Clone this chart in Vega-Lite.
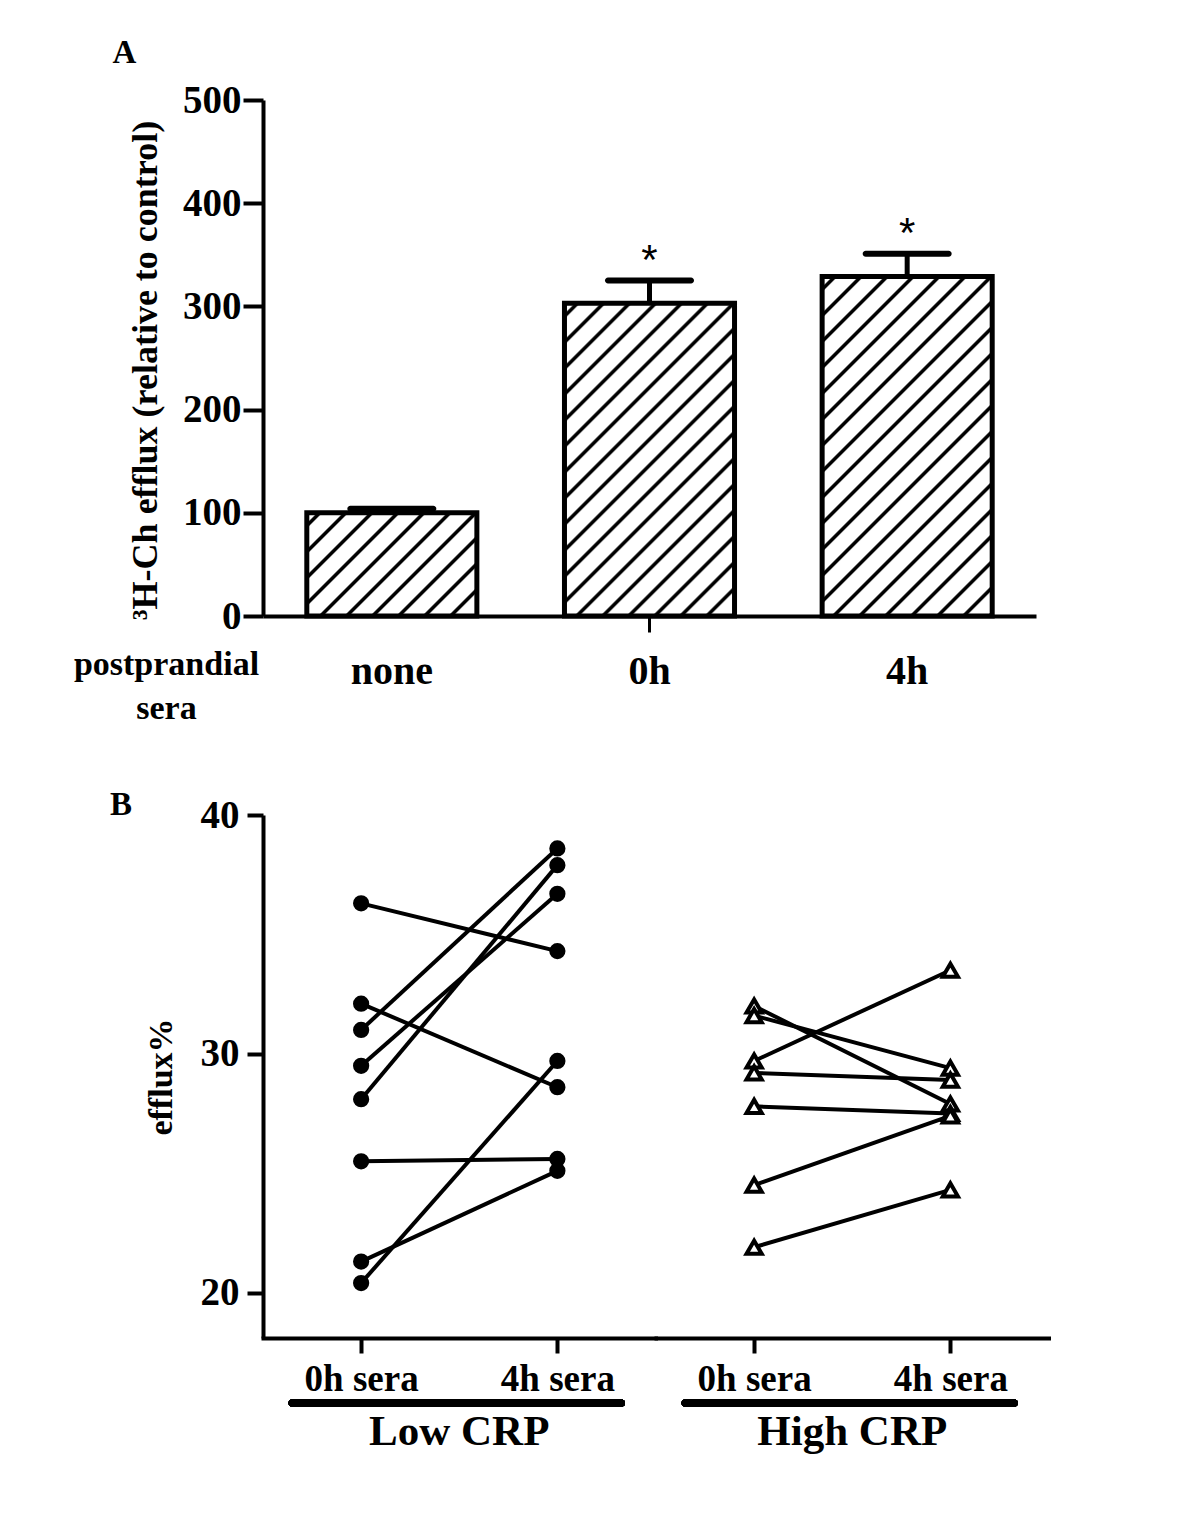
{
  "$schema": "https://vega.github.io/schema/vega-lite/v6.json",
  "background": "white",
  "padding": {"left": 73, "top": 37, "right": 10, "bottom": 10},
  "config": {
    "view": {"stroke": null},
    "font": "Liberation Serif",
    "axis": {"domainColor": "black", "domainWidth": 4, "tickColor": "black", "tickWidth": 4, "labelColor": "black", "labelFont": "Liberation Serif", "labelFontWeight": "bold", "titleFont": "Liberation Serif", "titleFontWeight": "bold", "titleColor": "black", "grid": false},
    "title": {"font": "Liberation Serif", "fontWeight": "bold", "color": "black", "fontSize": 33, "anchor": "start", "frame": "bounds", "baseline": "alphabetic"}
  },
  "spacing": 64,
  "vconcat": [
    {
      "title": {"text": "A", "offset": 11, "dx": 39},
      "width": 773,
      "height": 516,
      "data": {"values": [
        {"sera": "none", "mean": 100, "upper": 104, "sig": ""},
        {"sera": "0h", "mean": 303, "upper": 325, "sig": "*"},
        {"sera": "4h", "mean": 329, "upper": 351, "sig": "*"}
      ]},
      "encoding": {
        "x": {"field": "sera", "type": "nominal", "sort": ["none", "0h", "4h"],
          "scale": {"paddingInner": 0.34, "paddingOuter": 0.17},
          "axis": {"title": ["postprandial", "sera"], "titleFontSize": 34, "titleX": -97, "titleY": 58, "titleAlign": "center", "titleBaseline": "alphabetic", "titleLineHeight": 44, "titleAngle": 0,
            "labelFontSize": 40, "labelAngle": 0, "tickSize": 16, "tickWidth": 3, "labelPadding": 19,
            "tickOpacity": {"condition": {"test": "datum.value === '0h'", "value": 1}, "value": 0}}}
      },
      "layer": [
        {"mark": {"type": "rule", "strokeWidth": 5, "color": "black"},
         "encoding": {"y": {"field": "mean", "type": "quantitative", "title": "³H-Ch efflux (relative to control)",
            "scale": {"domain": [0, 500], "nice": false},
            "axis": {"values": [0, 100, 200, 300, 400, 500], "tickSize": 20, "labelPadding": 2, "labelFontSize": 39, "titleFontSize": 36, "titlePadding": 18, "titleY": 270}},
          "y2": {"field": "upper"}}},
        {"mark": {"type": "tick", "orient": "horizontal", "size": 89, "thickness": 6, "color": "black", "cornerRadius": 3, "opacity": 1},
         "encoding": {"y": {"field": "upper", "type": "quantitative", "title": "³H-Ch efflux (relative to control)"}}},
        {"mark": {"type": "bar", "stroke": "black", "strokeWidth": 5, "strokeJoin": "miter"},
         "encoding": {"y": {"field": "mean", "type": "quantitative", "title": "³H-Ch efflux (relative to control)"},
          "fill": {"condition": [
            {"test": "datum.sera === 'none'", "value": {"gradient": "linear", "x1": 0, "y1": 0, "x2": 2.2352, "y2": 1.3569, "stops": [
              {"offset": 0, "color": "#fff"},
              {"offset": 0.0183, "color": "#fff"}, {"offset": 0.0221, "color": "#000"}, {"offset": 0.0279, "color": "#000"}, {"offset": 0.0317, "color": "#fff"},
              {"offset": 0.0683, "color": "#fff"}, {"offset": 0.0721, "color": "#000"}, {"offset": 0.0779, "color": "#000"}, {"offset": 0.0817, "color": "#fff"},
              {"offset": 0.1183, "color": "#fff"}, {"offset": 0.1221, "color": "#000"}, {"offset": 0.1279, "color": "#000"}, {"offset": 0.1317, "color": "#fff"},
              {"offset": 0.1683, "color": "#fff"}, {"offset": 0.1721, "color": "#000"}, {"offset": 0.1779, "color": "#000"}, {"offset": 0.1817, "color": "#fff"},
              {"offset": 0.2183, "color": "#fff"}, {"offset": 0.2221, "color": "#000"}, {"offset": 0.2279, "color": "#000"}, {"offset": 0.2317, "color": "#fff"},
              {"offset": 0.2683, "color": "#fff"}, {"offset": 0.2721, "color": "#000"}, {"offset": 0.2779, "color": "#000"}, {"offset": 0.2817, "color": "#fff"},
              {"offset": 0.3183, "color": "#fff"}, {"offset": 0.3221, "color": "#000"}, {"offset": 0.3279, "color": "#000"}, {"offset": 0.3317, "color": "#fff"},
              {"offset": 0.3683, "color": "#fff"}, {"offset": 0.3721, "color": "#000"}, {"offset": 0.3779, "color": "#000"}, {"offset": 0.3817, "color": "#fff"},
              {"offset": 0.4183, "color": "#fff"}, {"offset": 0.4221, "color": "#000"}, {"offset": 0.4279, "color": "#000"}, {"offset": 0.4317, "color": "#fff"},
              {"offset": 0.4683, "color": "#fff"}, {"offset": 0.4721, "color": "#000"}, {"offset": 0.4779, "color": "#000"}, {"offset": 0.4817, "color": "#fff"},
              {"offset": 0.5183, "color": "#fff"}, {"offset": 0.5221, "color": "#000"}, {"offset": 0.5279, "color": "#000"}, {"offset": 0.5317, "color": "#fff"},
              {"offset": 1, "color": "#fff"}]}},
            {"test": "datum.sera === '0h'", "value": {"gradient": "linear", "x1": 0, "y1": 0, "x2": 0.6978, "y2": 1.2836, "stops": [
              {"offset": 0, "color": "#fff"},
              {"offset": 0.0183, "color": "#fff"}, {"offset": 0.0221, "color": "#000"}, {"offset": 0.0279, "color": "#000"}, {"offset": 0.0317, "color": "#fff"},
              {"offset": 0.0683, "color": "#fff"}, {"offset": 0.0721, "color": "#000"}, {"offset": 0.0779, "color": "#000"}, {"offset": 0.0817, "color": "#fff"},
              {"offset": 0.1183, "color": "#fff"}, {"offset": 0.1221, "color": "#000"}, {"offset": 0.1279, "color": "#000"}, {"offset": 0.1317, "color": "#fff"},
              {"offset": 0.1683, "color": "#fff"}, {"offset": 0.1721, "color": "#000"}, {"offset": 0.1779, "color": "#000"}, {"offset": 0.1817, "color": "#fff"},
              {"offset": 0.2183, "color": "#fff"}, {"offset": 0.2221, "color": "#000"}, {"offset": 0.2279, "color": "#000"}, {"offset": 0.2317, "color": "#fff"},
              {"offset": 0.2683, "color": "#fff"}, {"offset": 0.2721, "color": "#000"}, {"offset": 0.2779, "color": "#000"}, {"offset": 0.2817, "color": "#fff"},
              {"offset": 0.3183, "color": "#fff"}, {"offset": 0.3221, "color": "#000"}, {"offset": 0.3279, "color": "#000"}, {"offset": 0.3317, "color": "#fff"},
              {"offset": 0.3683, "color": "#fff"}, {"offset": 0.3721, "color": "#000"}, {"offset": 0.3779, "color": "#000"}, {"offset": 0.3817, "color": "#fff"},
              {"offset": 0.4183, "color": "#fff"}, {"offset": 0.4221, "color": "#000"}, {"offset": 0.4279, "color": "#000"}, {"offset": 0.4317, "color": "#fff"},
              {"offset": 0.4683, "color": "#fff"}, {"offset": 0.4721, "color": "#000"}, {"offset": 0.4779, "color": "#000"}, {"offset": 0.4817, "color": "#fff"},
              {"offset": 0.5183, "color": "#fff"}, {"offset": 0.5221, "color": "#000"}, {"offset": 0.5279, "color": "#000"}, {"offset": 0.5317, "color": "#fff"},
              {"offset": 0.5683, "color": "#fff"}, {"offset": 0.5721, "color": "#000"}, {"offset": 0.5779, "color": "#000"}, {"offset": 0.5817, "color": "#fff"},
              {"offset": 0.6183, "color": "#fff"}, {"offset": 0.6221, "color": "#000"}, {"offset": 0.6279, "color": "#000"}, {"offset": 0.6317, "color": "#fff"},
              {"offset": 0.6683, "color": "#fff"}, {"offset": 0.6721, "color": "#000"}, {"offset": 0.6779, "color": "#000"}, {"offset": 0.6817, "color": "#fff"},
              {"offset": 0.7183, "color": "#fff"}, {"offset": 0.7221, "color": "#000"}, {"offset": 0.7279, "color": "#000"}, {"offset": 0.7317, "color": "#fff"},
              {"offset": 0.7683, "color": "#fff"}, {"offset": 0.7721, "color": "#000"}, {"offset": 0.7779, "color": "#000"}, {"offset": 0.7817, "color": "#fff"},
              {"offset": 0.8183, "color": "#fff"}, {"offset": 0.8221, "color": "#000"}, {"offset": 0.8279, "color": "#000"}, {"offset": 0.8317, "color": "#fff"},
              {"offset": 0.8683, "color": "#fff"}, {"offset": 0.8721, "color": "#000"}, {"offset": 0.8779, "color": "#000"}, {"offset": 0.8817, "color": "#fff"},
              {"offset": 0.9183, "color": "#fff"}, {"offset": 0.9221, "color": "#000"}, {"offset": 0.9279, "color": "#000"}, {"offset": 0.9317, "color": "#fff"},
              {"offset": 1, "color": "#fff"}]}}
          ],
          "value": {"gradient": "linear", "x1": 0, "y1": 0, "x2": 0.6132, "y2": 1.2246, "stops": [
              {"offset": 0, "color": "#fff"},
              {"offset": 0.0183, "color": "#fff"}, {"offset": 0.0221, "color": "#000"}, {"offset": 0.0279, "color": "#000"}, {"offset": 0.0317, "color": "#fff"},
              {"offset": 0.0683, "color": "#fff"}, {"offset": 0.0721, "color": "#000"}, {"offset": 0.0779, "color": "#000"}, {"offset": 0.0817, "color": "#fff"},
              {"offset": 0.1183, "color": "#fff"}, {"offset": 0.1221, "color": "#000"}, {"offset": 0.1279, "color": "#000"}, {"offset": 0.1317, "color": "#fff"},
              {"offset": 0.1683, "color": "#fff"}, {"offset": 0.1721, "color": "#000"}, {"offset": 0.1779, "color": "#000"}, {"offset": 0.1817, "color": "#fff"},
              {"offset": 0.2183, "color": "#fff"}, {"offset": 0.2221, "color": "#000"}, {"offset": 0.2279, "color": "#000"}, {"offset": 0.2317, "color": "#fff"},
              {"offset": 0.2683, "color": "#fff"}, {"offset": 0.2721, "color": "#000"}, {"offset": 0.2779, "color": "#000"}, {"offset": 0.2817, "color": "#fff"},
              {"offset": 0.3183, "color": "#fff"}, {"offset": 0.3221, "color": "#000"}, {"offset": 0.3279, "color": "#000"}, {"offset": 0.3317, "color": "#fff"},
              {"offset": 0.3683, "color": "#fff"}, {"offset": 0.3721, "color": "#000"}, {"offset": 0.3779, "color": "#000"}, {"offset": 0.3817, "color": "#fff"},
              {"offset": 0.4183, "color": "#fff"}, {"offset": 0.4221, "color": "#000"}, {"offset": 0.4279, "color": "#000"}, {"offset": 0.4317, "color": "#fff"},
              {"offset": 0.4683, "color": "#fff"}, {"offset": 0.4721, "color": "#000"}, {"offset": 0.4779, "color": "#000"}, {"offset": 0.4817, "color": "#fff"},
              {"offset": 0.5183, "color": "#fff"}, {"offset": 0.5221, "color": "#000"}, {"offset": 0.5279, "color": "#000"}, {"offset": 0.5317, "color": "#fff"},
              {"offset": 0.5683, "color": "#fff"}, {"offset": 0.5721, "color": "#000"}, {"offset": 0.5779, "color": "#000"}, {"offset": 0.5817, "color": "#fff"},
              {"offset": 0.6183, "color": "#fff"}, {"offset": 0.6221, "color": "#000"}, {"offset": 0.6279, "color": "#000"}, {"offset": 0.6317, "color": "#fff"},
              {"offset": 0.6683, "color": "#fff"}, {"offset": 0.6721, "color": "#000"}, {"offset": 0.6779, "color": "#000"}, {"offset": 0.6817, "color": "#fff"},
              {"offset": 0.7183, "color": "#fff"}, {"offset": 0.7221, "color": "#000"}, {"offset": 0.7279, "color": "#000"}, {"offset": 0.7317, "color": "#fff"},
              {"offset": 0.7683, "color": "#fff"}, {"offset": 0.7721, "color": "#000"}, {"offset": 0.7779, "color": "#000"}, {"offset": 0.7817, "color": "#fff"},
              {"offset": 0.8183, "color": "#fff"}, {"offset": 0.8221, "color": "#000"}, {"offset": 0.8279, "color": "#000"}, {"offset": 0.8317, "color": "#fff"},
              {"offset": 0.8683, "color": "#fff"}, {"offset": 0.8721, "color": "#000"}, {"offset": 0.8779, "color": "#000"}, {"offset": 0.8817, "color": "#fff"},
              {"offset": 0.9183, "color": "#fff"}, {"offset": 0.9221, "color": "#000"}, {"offset": 0.9279, "color": "#000"}, {"offset": 0.9317, "color": "#fff"},
              {"offset": 0.9683, "color": "#fff"}, {"offset": 0.9721, "color": "#000"}, {"offset": 0.9779, "color": "#000"}, {"offset": 0.9817, "color": "#fff"},
              {"offset": 1, "color": "#fff"}]}}}},
        {"mark": {"type": "text", "font": "Liberation Sans", "fontSize": 42, "baseline": "alphabetic", "dy": -7, "color": "black"},
         "encoding": {"y": {"field": "upper", "type": "quantitative", "title": "³H-Ch efflux (relative to control)"}, "text": {"field": "sig"}}}
      ]
    },
    {
      "title": {"text": "B", "offset": -26, "dx": -34},
      "data": {"values": [
        {"group": "Low CRP", "subject": "L1", "sera": "0h sera", "efflux": 36.3},
        {"group": "Low CRP", "subject": "L1", "sera": "4h sera", "efflux": 34.3},
        {"group": "Low CRP", "subject": "L2", "sera": "0h sera", "efflux": 32.1},
        {"group": "Low CRP", "subject": "L2", "sera": "4h sera", "efflux": 28.6},
        {"group": "Low CRP", "subject": "L3", "sera": "0h sera", "efflux": 31.0},
        {"group": "Low CRP", "subject": "L3", "sera": "4h sera", "efflux": 38.6},
        {"group": "Low CRP", "subject": "L4", "sera": "0h sera", "efflux": 29.5},
        {"group": "Low CRP", "subject": "L4", "sera": "4h sera", "efflux": 36.7},
        {"group": "Low CRP", "subject": "L5", "sera": "0h sera", "efflux": 28.1},
        {"group": "Low CRP", "subject": "L5", "sera": "4h sera", "efflux": 37.9},
        {"group": "Low CRP", "subject": "L6", "sera": "0h sera", "efflux": 25.5},
        {"group": "Low CRP", "subject": "L6", "sera": "4h sera", "efflux": 25.6},
        {"group": "Low CRP", "subject": "L7", "sera": "0h sera", "efflux": 21.3},
        {"group": "Low CRP", "subject": "L7", "sera": "4h sera", "efflux": 25.1},
        {"group": "Low CRP", "subject": "L8", "sera": "0h sera", "efflux": 20.4},
        {"group": "Low CRP", "subject": "L8", "sera": "4h sera", "efflux": 29.7},
        {"group": "High CRP", "subject": "H1", "sera": "0h sera", "efflux": 32.0},
        {"group": "High CRP", "subject": "H1", "sera": "4h sera", "efflux": 27.9},
        {"group": "High CRP", "subject": "H2", "sera": "0h sera", "efflux": 31.6},
        {"group": "High CRP", "subject": "H2", "sera": "4h sera", "efflux": 29.4},
        {"group": "High CRP", "subject": "H3", "sera": "0h sera", "efflux": 29.7},
        {"group": "High CRP", "subject": "H3", "sera": "4h sera", "efflux": 33.5},
        {"group": "High CRP", "subject": "H4", "sera": "0h sera", "efflux": 29.2},
        {"group": "High CRP", "subject": "H4", "sera": "4h sera", "efflux": 28.9},
        {"group": "High CRP", "subject": "H5", "sera": "0h sera", "efflux": 27.8},
        {"group": "High CRP", "subject": "H5", "sera": "4h sera", "efflux": 27.5},
        {"group": "High CRP", "subject": "H6", "sera": "0h sera", "efflux": 24.5},
        {"group": "High CRP", "subject": "H6", "sera": "4h sera", "efflux": 27.4},
        {"group": "High CRP", "subject": "H7", "sera": "0h sera", "efflux": 21.9},
        {"group": "High CRP", "subject": "H7", "sera": "4h sera", "efflux": 24.3}
      ]},
      "facet": {"column": {"field": "group", "type": "nominal", "sort": ["Low CRP", "High CRP"], "title": null,
        "header": {"labelOrient": "bottom", "labelFontSize": 43, "labelFont": "Liberation Serif", "labelFontWeight": "bold", "labelColor": "black", "labelPadding": 14}}},
      "spacing": 0,
      "bounds": "flush",
      "spec": {
        "width": 392.5,
        "height": 523,
        "encoding": {
          "x": {"field": "sera", "type": "nominal", "sort": ["0h sera", "4h sera"], "scale": {"type": "point", "padding": 0.5},
            "axis": {"title": null, "labelFontSize": 37, "labelAngle": 0, "tickSize": 15, "labelPadding": 8, "domainCap": "square"}}
        },
        "layer": [
          {"mark": {"type": "rule", "strokeWidth": 7, "strokeCap": "round", "color": "black", "xOffset": -69, "x2Offset": 64, "yOffset": 65},
           "encoding": {"x": {"datum": "0h sera"}, "x2": {"datum": "4h sera"}, "y": {"datum": 18.1, "type": "quantitative"}}},
          {"mark": {"type": "line", "strokeWidth": 4, "color": "black"},
           "encoding": {"y": {"field": "efflux", "type": "quantitative", "title": "efflux%",
              "scale": {"domain": [18.1, 40], "nice": false, "zero": false},
              "axis": {"values": [20, 30, 40], "tickSize": 16, "labelPadding": 8, "labelFontSize": 39, "titleFontSize": 34, "titlePadding": 22}},
            "detail": {"field": "subject"}}},
          {"mark": {"type": "point", "filled": true, "stroke": "black", "strokeWidth": 4, "opacity": 1, "strokeJoin": "miter"},
           "encoding": {"y": {"field": "efflux", "type": "quantitative", "title": "efflux%"},
            "shape": {"field": "group", "type": "nominal", "scale": {"domain": ["Low CRP", "High CRP"], "range": ["circle", "triangle-up"]}, "legend": null},
            "fill": {"field": "group", "type": "nominal", "scale": {"domain": ["Low CRP", "High CRP"], "range": ["black", "white"]}, "legend": null},
            "size": {"field": "group", "type": "ordinal", "scale": {"domain": ["Low CRP", "High CRP"], "range": [150, 230]}, "legend": null}}}
        ]
      }
    }
  ]
}
